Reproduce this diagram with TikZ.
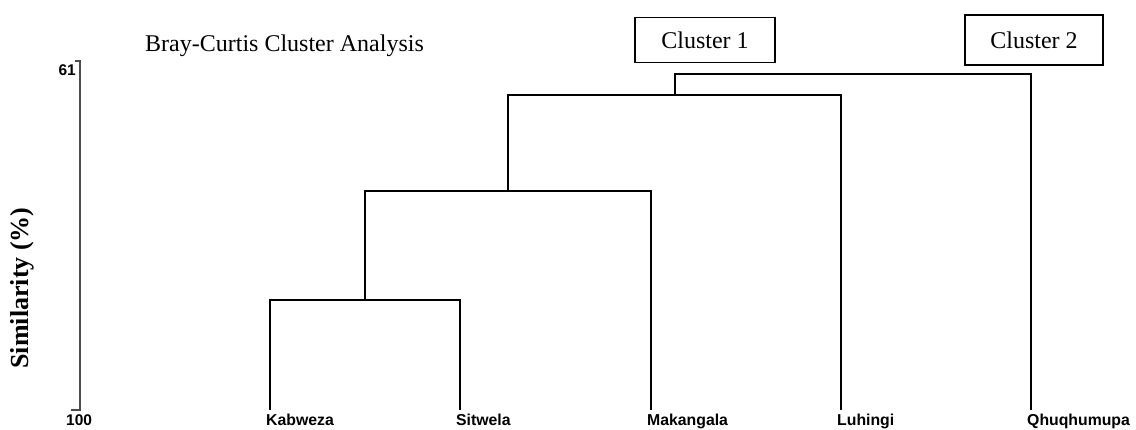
\documentclass[tikz,border=0pt]{standalone}
\usepackage{fontspec}
\setmainfont{Liberation Serif}
\newfontfamily\arialfont{Liberation Sans}
\begin{document}
\begin{tikzpicture}[x=1pt,y=-1pt,
  leaflabel/.style={font=\arialfont\bfseries\fontsize{15.8}{16}\selectfont, anchor=base west, inner sep=0pt},
  ticklabel/.style={font=\arialfont\bfseries\fontsize{15.5}{16}\selectfont, inner sep=0pt},
  dend/.style={line width=2pt},
  clusterbox/.style={draw, line width=1.6pt, minimum width=140pt, minimum height=45pt, inner sep=0pt, font=\fontsize{24}{24}\selectfont},
  axisline/.style={line width=1.2pt, black!70}
]
\useasboundingbox (0,0) rectangle (1136,430);

% title and axis label
\node[anchor=west, inner sep=0pt, font=\fontsize{24}{24}\selectfont] (title) at (145,46) {Bray-Curtis Cluster Analysis};
\node[rotate=90, inner sep=0pt, font=\bfseries\fontsize{26}{26}\selectfont] (ylab) at (22,288) {Similarity (\%)};

% axis
\coordinate (atop) at (80,61);
\coordinate (abot) at (80,410);
\draw[axisline] ([xshift=-5pt]atop) -- (atop) -- (abot) -- ([xshift=-9pt]abot);
\node[ticklabel, anchor=base east] (t61) at (76,76) {61};
\node[ticklabel, anchor=base west] (t100) at (66,426) {100};

% leaves
\coordinate (k) at (270,410);
\coordinate (s) at (460,410);
\coordinate (m) at (651,410);
\coordinate (l) at (841,410);
\coordinate (q) at (1031,410);
\node[leaflabel] (kl) at (266,426) {Kabweza};
\node[leaflabel] (sl) at (456,426) {Sitwela};
\node[leaflabel] (ml) at (647,426) {Makangala};
\node[leaflabel] (ll) at (837,426) {Luhingi};
\node[leaflabel] (ql) at (1027,426) {Qhuqhumupa};

% merges
\coordinate (ks) at (365,300);
\coordinate (ksm) at (508,191);
\coordinate (ksml) at (675,95);
\coordinate (all) at (853,74);

\draw[dend] (k) |- (ks) -| (s);
\draw[dend] (ks) |- (ksm) -| (m);
\draw[dend] (ksm) |- (ksml) -| (l);
\draw[dend] (ksml) |- (all) -| (q);

% cluster boxes
\node[clusterbox] (c1) at (705,40) {Cluster 1};
\node[clusterbox, minimum width=138pt, minimum height=50pt] (c2) at (1034,40) {Cluster 2};
\end{tikzpicture}
\end{document}
